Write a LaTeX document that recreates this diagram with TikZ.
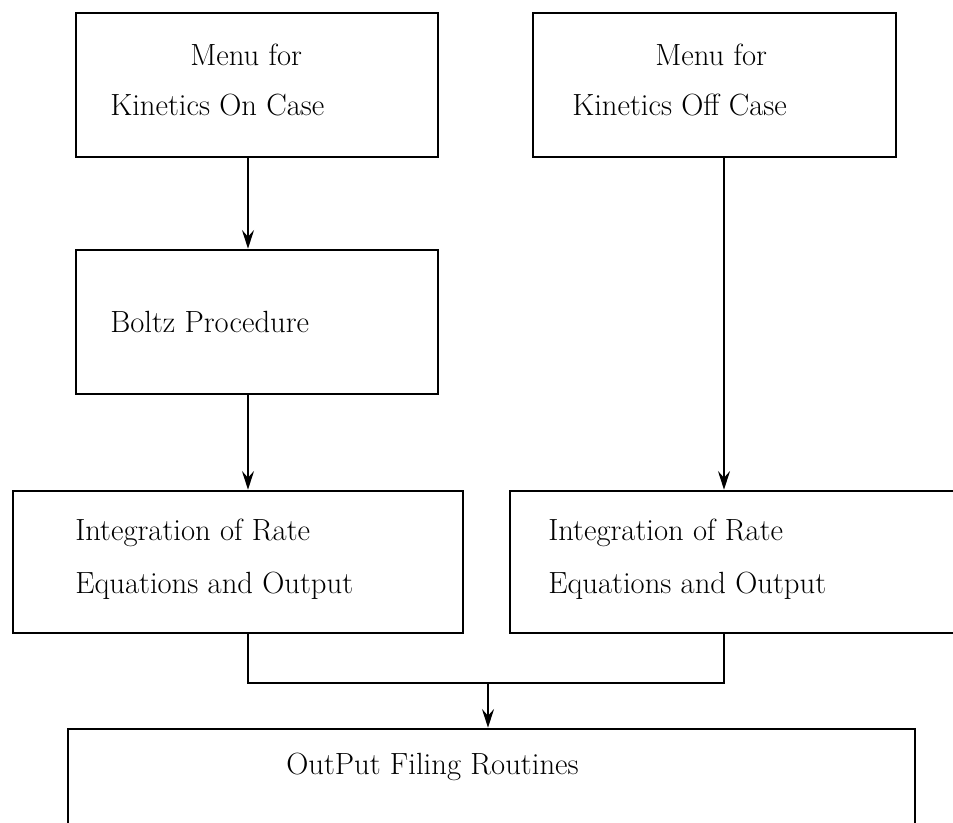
\documentclass[tikz,border=0pt]{standalone}
\usetikzlibrary{arrows.meta,fit}
\begin{document}
\begin{tikzpicture}[x=0.75pt,y=-0.75pt,
  box/.style={draw, line width=1.9pt, inner sep=0pt},
  conn/.style={line width=1.7pt},
  arr/.style={conn, -{Stealth[length=14pt,width=9pt,inset=5pt]}},
  txt/.style={font=\fontsize{23}{28}\selectfont, inner sep=0pt, anchor=west}]
\useasboundingbox (0,0) rectangle (953,822);
% boxes
\node[box, fit={(76,13) (438,157)}] (b1) {};
\node[box, fit={(533,13) (896,157)}] (b2) {};
\node[box, fit={(76,250) (438,394)}] (b3) {};
\node[box, fit={(13,491) (463,633)}] (b4) {};
\node[box, fit={(510,491) (990,633)}] (b5) {};
\node[box, fit={(68,729) (915,880)}] (b6) {};
% texts
\node[txt] (t1a) at (190,55) {Menu for};
\node[txt] (t1b) at (110,105) {Kinetics On Case};
\node[txt] (t2a) at (655,55) {Menu for};
\node[txt] (t2b) at (572,105) {Kinetics Off Case};
\node[txt] (t3) at (110,322) {Boltz Procedure};
\node[txt] (t4a) at (75,533) {Integration of Rate};
\node[txt] (t4b) at (75,586) {Equations and Output};
\node[txt] (t5a) at (548,533) {Integration of Rate};
\node[txt] (t5b) at (548,586) {Equations and Output};
\node[txt] (t6) at (286,767) {OutPut Filing Routines};
% connectors
\coordinate (xl) at (248,0);
\coordinate (xr) at (724,0);
\coordinate (j) at (488,683);
\draw[arr] (b1.south -| xl) -- (b3.north -| xl);
\draw[arr] (b3.south -| xl) -- (b4.north -| xl);
\draw[arr] (b2.south -| xr) -- (b5.north -| xr);
\draw[conn] (b4.south -| xl) |- (j) -| (b5.south -| xr);
\draw[arr] (j) -- (b6.north -| j);
\end{tikzpicture}
\end{document}
